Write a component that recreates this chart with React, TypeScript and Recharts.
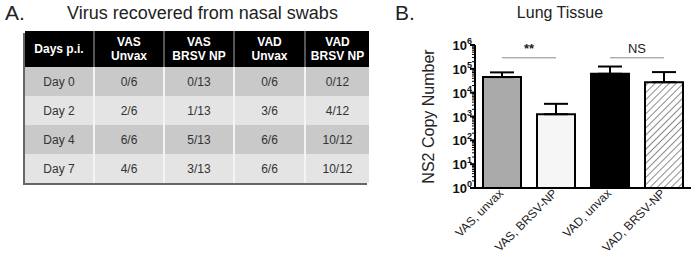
import React from "react";
import {
  BarChart,
  Bar,
  Cell,
  XAxis,
  YAxis,
  ErrorBar,
  ReferenceLine,
} from "recharts";

// Panel A: virus recovered from nasal swabs
const TABLE_HEADERS = ["Days p.i.", "VAS\nUnvax", "VAS\nBRSV NP", "VAD\nUnvax", "VAD\nBRSV NP"];
const DAYS = ["Day 0", "Day 2", "Day 4", "Day 7"];
const VAS_UNVAX = ["0/6", "2/6", "6/6", "4/6"];
const VAS_BRSV_NP = ["0/13", "1/13", "5/13", "3/13"];
const VAD_UNVAX = ["0/6", "3/6", "6/6", "6/6"];
const VAD_BRSV_NP = ["0/12", "4/12", "10/12", "10/12"];

// Panel B: lung tissue NS2 copy number
const GROUPS = ["VAS, unvax", "VAS, BRSV-NP", "VAD, unvax", "VAD, BRSV-NP"];
const MEANS = [45000, 1250, 62000, 27500];
const UPPER = [71000, 3400, 125000, 73000];
const Y_MAJOR = [1, 10, 100, 1000, 10000, 100000, 1000000];
const SIG_Y = 290000;

const FILLS = ["#aaaaaa", "#f6f6f6", "#000000", "url(#hatch)"];
const COL_W = [68, 70, 70, 71, 65];
const HEAD_H = 36;
const ROW_H = 29;
const FONT = "Arial, 'Liberation Sans', sans-serif";

const barData = GROUPS.map((g, i) => ({
  name: g,
  value: MEANS[i],
  err: [0, UPPER[i] - MEANS[i]],
}));

// major + minor log ticks
const yTicks: number[] = [];
Y_MAJOR.forEach((p, i) => {
  if (i === Y_MAJOR.length - 1) {
    yTicks.push(p);
    return;
  }
  for (let k = 1; k < 10; k++) yTicks.push(p * k);
});

function YTick(props: any) {
  const { x, y, payload } = props;
  const v = payload.value;
  const exp = Math.round(Math.log10(v));
  const major = Math.abs(v - Math.pow(10, exp)) < 1e-6;
  if (!major) {
    return <line x1={x} x2={x - 3} y1={y} y2={y} stroke="#000" strokeWidth={1} />;
  }
  return (
    <g>
      <line x1={x} x2={x - 5} y1={y} y2={y} stroke="#000" strokeWidth={2} />
      <text x={x - 3} y={y + 5} textAnchor="end" fontFamily={FONT} fontWeight="bold" fontSize={13} fill="#111">
        <tspan>10</tspan>
        <tspan dy={-6} fontSize={9}>{exp}</tspan>
      </text>
    </g>
  );
}

function XTick(props: any) {
  const { x, y, payload } = props;
  return (
    <text
      x={x + 2}
      y={y + 6}
      transform={`rotate(-45, ${x + 2}, ${y + 6})`}
      textAnchor="end"
      fontFamily={FONT}
      fontSize={12}
      fill="#222"
    >
      {payload.value}
    </text>
  );
}

function SwabTable() {
  const cols = [DAYS, VAS_UNVAX, VAS_BRSV_NP, VAD_UNVAX, VAD_BRSV_NP];
  const xs = COL_W.map((_, i) => COL_W.slice(0, i).reduce((a, b) => a + b, 0));
  const total = COL_W.reduce((a, b) => a + b, 0);
  const cell = (i: number): React.CSSProperties => ({
    position: "absolute",
    left: xs[i],
    width: COL_W[i],
    top: 0,
    bottom: 0,
    display: "flex",
    alignItems: "center",
    justifyContent: "center",
    textAlign: "center",
    boxSizing: "border-box",
  });
  return (
    <div
      style={{
        position: "absolute",
        left: 25,
        top: 31,
        width: total,
        height: HEAD_H + ROW_H * DAYS.length,
        fontFamily: FONT,
        fontSize: 12,
        boxShadow: "-2px 2px 0 #666",
      }}
    >
      <div style={{ position: "absolute", left: 0, top: 0, width: total, height: HEAD_H, background: "#000" }}>
        {TABLE_HEADERS.map((h, i) => (
          <div
            key={i}
            style={{
              ...cell(i),
              color: "#fff",
              fontWeight: "bold",
              lineHeight: "14px",
              whiteSpace: "pre-line",
              borderLeft: i > 0 ? "2px solid #555" : "none",
            }}
          >
            {h}
          </div>
        ))}
      </div>
      {DAYS.map((_, r) => (
        <div
          key={r}
          style={{
            position: "absolute",
            left: 0,
            top: HEAD_H + r * ROW_H,
            width: total,
            height: ROW_H,
            background: r % 2 === 0 ? "#c9c9c9" : "#e4e4e4",
          }}
        >
          {cols.map((c, i) => (
            <div
              key={i}
              style={{
                ...cell(i),
                color: "#333",
                borderLeft: i > 0 ? "2px solid #f4f4f4" : "none",
              }}
            >
              {c[r]}
            </div>
          ))}
        </div>
      ))}
    </div>
  );
}

export default function App() {
  return (
    <div style={{ position: "absolute", left: 0, top: 0, width: 695, height: 270, background: "#fff", fontFamily: FONT }}>
      <svg width={0} height={0} style={{ position: "absolute" }}>
        <defs>
          <pattern id="hatch" width={5} height={5} patternUnits="userSpaceOnUse" patternTransform="rotate(45)">
            <rect width={5} height={5} fill="#fff" />
            <line x1={0} y1={0} x2={0} y2={5} stroke="#8a8a8a" strokeWidth={2} />
          </pattern>
        </defs>
      </svg>

      <div style={{ position: "absolute", left: 5, top: 1, fontSize: 21, color: "#222" }}>A.</div>
      <div style={{ position: "absolute", left: 60, top: 3, width: 285, textAlign: "center", fontSize: 18, color: "#222" }}>
        Virus recovered from nasal swabs
      </div>
      <SwabTable />

      <div style={{ position: "absolute", left: 395, top: 1, fontSize: 21, color: "#222" }}>B.</div>
      <div style={{ position: "absolute", left: 510, top: 4, width: 100, textAlign: "center", fontSize: 16, color: "#222" }}>
        Lung Tissue
      </div>

      <div style={{ position: "absolute", left: 370, top: 0 }}>
        <BarChart
          width={325}
          height={270}
          data={barData}
          margin={{ top: 45, right: 4, bottom: 12, left: 45 }}
          barSize={38}
        >
          <XAxis
            dataKey="name"
            tick={<XTick />}
            tickLine={false}
            tickSize={0}
            tickMargin={0}
            height={70}
            interval={0}
            axisLine={{ stroke: "#000", strokeWidth: 2 }}
          />
          <YAxis
            scale="log"
            domain={[1, 1000000]}
            allowDataOverflow
            ticks={yTicks}
            interval={0}
            tick={<YTick />}
            tickLine={false}
            tickSize={0}
            tickMargin={0}
            width={60}
            axisLine={{ stroke: "#000", strokeWidth: 2 }}
            label={{
              value: "NS2 Copy Number",
              angle: -90,
              position: "insideLeft",
              offset: 13,
              style: { textAnchor: "middle", fontFamily: FONT, fontSize: 16, fill: "#222" },
            }}
          />
          <Bar dataKey="value" stroke="#000" strokeWidth={2} isAnimationActive={false}>
            {barData.map((_, i) => (
              <Cell key={i} fill={FILLS[i]} />
            ))}
            <ErrorBar dataKey="err" direction="y" width={12} stroke="#000" strokeWidth={2} isAnimationActive={false} />
          </Bar>
          <ReferenceLine
            segment={[
              { x: GROUPS[0], y: SIG_Y },
              { x: GROUPS[1], y: SIG_Y },
            ]}
            stroke="#888"
            strokeWidth={1}
            label={{ value: "**", position: "top", fontFamily: FONT, fontSize: 13, fontWeight: "bold", fill: "#222" }}
          />
          <ReferenceLine
            segment={[
              { x: GROUPS[2], y: SIG_Y },
              { x: GROUPS[3], y: SIG_Y },
            ]}
            stroke="#888"
            strokeWidth={1}
            label={{ value: "NS", position: "top", fontFamily: FONT, fontSize: 13, fill: "#222" }}
          />
        </BarChart>
      </div>
    </div>
  );
}
